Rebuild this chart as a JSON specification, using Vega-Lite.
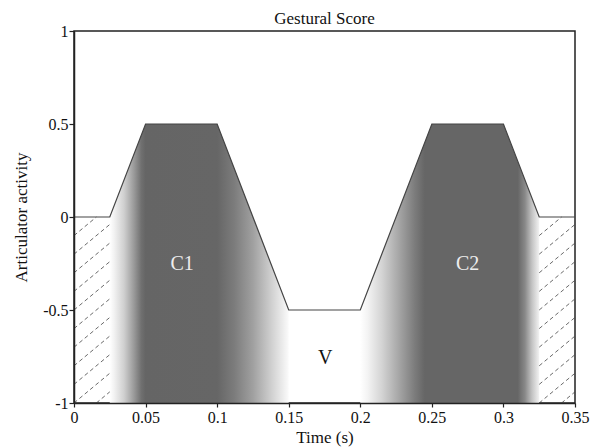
{
  "$schema": "https://vega.github.io/schema/vega-lite/v6.json",
  "width": 501,
  "height": 372,
  "autosize": "none",
  "padding": {"left": 74, "top": 31, "right": 15, "bottom": 44},
  "background": "white",
  "config": {
    "view": {"stroke": "#222", "strokeWidth": 1.5},
    "font": "Liberation Serif"
  },
  "title": {"text": "Gestural Score", "fontSize": 17, "font": "Liberation Serif", "fontWeight": "normal", "offset": 0, "dy": 5, "color": "#111"},
  "datasets": {
    "line": [
      {"t": 0, "a": 0}, {"t": 0.025, "a": 0}, {"t": 0.05, "a": 0.5}, {"t": 0.1, "a": 0.5},
      {"t": 0.15, "a": -0.5}, {"t": 0.2, "a": -0.5}, {"t": 0.25, "a": 0.5}, {"t": 0.3, "a": 0.5},
      {"t": 0.325, "a": 0}, {"t": 0.35, "a": 0}
    ],
    "c1": [
      {"t": 0.025, "a": 0}, {"t": 0.05, "a": 0.5}, {"t": 0.1, "a": 0.5}, {"t": 0.15, "a": -0.5}
    ],
    "c2": [
      {"t": 0.2, "a": -0.5}, {"t": 0.25, "a": 0.5}, {"t": 0.3, "a": 0.5}, {"t": 0.325, "a": 0}
    ],
    "bands": [
      {"g": "C1", "t": 0.027, "t2": 0.15},
      {"g": "C2", "t": 0.2, "t2": 0.325}
    ],
    "hatch": [
      {"t": 0.015625, "a": -1, "t2": 0.025, "a2": -0.94},
      {"t": 0, "a": -1, "t2": 0.025, "a2": -0.84},
      {"t": 0, "a": -0.9, "t2": 0.025, "a2": -0.74},
      {"t": 0, "a": -0.8, "t2": 0.025, "a2": -0.64},
      {"t": 0, "a": -0.7, "t2": 0.025, "a2": -0.54},
      {"t": 0, "a": -0.6, "t2": 0.025, "a2": -0.44},
      {"t": 0, "a": -0.5, "t2": 0.025, "a2": -0.34},
      {"t": 0, "a": -0.4, "t2": 0.025, "a2": -0.24},
      {"t": 0, "a": -0.3, "t2": 0.025, "a2": -0.14},
      {"t": 0, "a": -0.2, "t2": 0.025, "a2": -0.04},
      {"t": 0, "a": -0.1, "t2": 0.015625, "a2": 0},
      {"t": 0.340625, "a": -1, "t2": 0.35, "a2": -0.94},
      {"t": 0.325, "a": -1, "t2": 0.35, "a2": -0.84},
      {"t": 0.325, "a": -0.9, "t2": 0.35, "a2": -0.74},
      {"t": 0.325, "a": -0.8, "t2": 0.35, "a2": -0.64},
      {"t": 0.325, "a": -0.7, "t2": 0.35, "a2": -0.54},
      {"t": 0.325, "a": -0.6, "t2": 0.35, "a2": -0.44},
      {"t": 0.325, "a": -0.5, "t2": 0.35, "a2": -0.34},
      {"t": 0.325, "a": -0.4, "t2": 0.35, "a2": -0.24},
      {"t": 0.325, "a": -0.3, "t2": 0.35, "a2": -0.14},
      {"t": 0.325, "a": -0.2, "t2": 0.35, "a2": -0.04},
      {"t": 0.325, "a": -0.1, "t2": 0.340625, "a2": 0}
    ],
    "labels": [
      {"label": "C1", "t": 0.0755, "a": -0.25},
      {"label": "C2", "t": 0.275, "a": -0.25},
      {"label": "V", "t": 0.1755, "a": -0.76}
    ]
  },
  "encoding": {
    "x": {
      "field": "t", "type": "quantitative",
      "scale": {"domain": [0, 0.35], "nice": false, "zero": false},
      "axis": {
        "title": "Time (s)",
        "values": [0, 0.05, 0.1, 0.15, 0.2, 0.25, 0.3, 0.35],
        "labelExpr": "datum.value + ''",
        "grid": false, "tickSize": 4, "labelPadding": 2, "zindex": 1,
        "labelFontSize": 16, "titleFontSize": 17,
        "labelFont": "Liberation Serif", "titleFont": "Liberation Serif",
        "titleFontWeight": "normal", "labelColor": "#111", "titleColor": "#111",
        "domainColor": "#222", "tickColor": "#222", "domainWidth": 1.5, "tickWidth": 1.2,
        "labelFlush": false, "labelOverlap": false,
        "titleX": 250.5, "titleY": 39, "titleBaseline": "alphabetic", "titleAlign": "center"
      }
    },
    "y": {
      "field": "a", "type": "quantitative",
      "scale": {"domain": [-1, 1], "nice": false, "zero": false},
      "axis": {
        "title": "Articulator activity",
        "values": [-1, -0.5, 0, 0.5, 1],
        "labelExpr": "datum.value + ''",
        "grid": false, "tickSize": 5, "labelPadding": 1, "zindex": 1,
        "labelFontSize": 16, "titleFontSize": 17,
        "labelFont": "Liberation Serif", "titleFont": "Liberation Serif",
        "titleFontWeight": "normal", "labelColor": "#111", "titleColor": "#111",
        "domainColor": "#222", "tickColor": "#222", "domainWidth": 1.5, "tickWidth": 1.2,
        "labelFlush": false, "labelOverlap": false,
        "titleX": -48, "titleY": 186, "titleAngle": -90, "titleBaseline": "alphabetic", "titleAlign": "center"
      }
    }
  },
  "layer": [
    {
      "data": {"name": "bands"},
      "transform": [{"filter": "datum.g == 'C1'"}],
      "mark": {"type": "rect", "opacity": 0.07, "fill": {
        "gradient": "linear", "x1": 0, "x2": 1, "y1": 0, "y2": 0,
        "stops": [
          {"offset": 0, "color": "#ffffff"},
          {"offset": 0.17, "color": "#666666"},
          {"offset": 0.59, "color": "#666666"},
          {"offset": 1, "color": "#ffffff"}
        ]}},
      "encoding": {"x2": {"field": "t2"}, "y": {"datum": 0.5}, "y2": {"datum": -1}}
    },
    {
      "data": {"name": "bands"},
      "transform": [{"filter": "datum.g == 'C2'"}],
      "mark": {"type": "rect", "opacity": 0.07, "fill": {
        "gradient": "linear", "x1": 0, "x2": 1, "y1": 0, "y2": 0,
        "stops": [
          {"offset": 0, "color": "#ffffff"},
          {"offset": 0.36, "color": "#666666"},
          {"offset": 0.88, "color": "#666666"},
          {"offset": 1, "color": "#ffffff"}
        ]}},
      "encoding": {"x2": {"field": "t2"}, "y": {"datum": 0.5}, "y2": {"datum": -1}}
    },
    {
      "data": {"name": "c1"},
      "mark": {"type": "area", "fill": {
        "gradient": "linear", "x1": 0, "x2": 1, "y1": 0, "y2": 0,
        "stops": [
          {"offset": 0, "color": "#ffffff"},
          {"offset": 0.024, "color": "#f2f2f2"},
          {"offset": 0.08, "color": "#cfcfcf"},
          {"offset": 0.136, "color": "#999999"},
          {"offset": 0.176, "color": "#707070"},
          {"offset": 0.2, "color": "#656565"},
          {"offset": 0.6, "color": "#666666"},
          {"offset": 0.696, "color": "#7c7c7c"},
          {"offset": 0.8, "color": "#a0a0a0"},
          {"offset": 0.904, "color": "#d0d0d0"},
          {"offset": 1, "color": "#fbfbfb"}
        ]}},
      "encoding": {"y2": {"datum": -1}}
    },
    {
      "data": {"name": "c2"},
      "mark": {"type": "area", "fill": {
        "gradient": "linear", "x1": 0, "x2": 1, "y1": 0, "y2": 0,
        "stops": [
          {"offset": 0, "color": "#ffffff"},
          {"offset": 0.04, "color": "#f4f4f4"},
          {"offset": 0.12, "color": "#d4d4d4"},
          {"offset": 0.224, "color": "#a2a2a2"},
          {"offset": 0.304, "color": "#7c7c7c"},
          {"offset": 0.36, "color": "#666666"},
          {"offset": 0.88, "color": "#666666"},
          {"offset": 0.92, "color": "#888888"},
          {"offset": 0.96, "color": "#c4c4c4"},
          {"offset": 1, "color": "#f2f2f2"}
        ]}},
      "encoding": {"y2": {"datum": -1}}
    },
    {
      "data": {"name": "hatch"},
      "mark": {"type": "rule", "stroke": "#444444", "strokeWidth": 0.8, "strokeDash": [4, 3]},
      "encoding": {"x2": {"field": "t2"}, "y2": {"field": "a2"}}
    },
    {
      "data": {"name": "line"},
      "mark": {"type": "line", "stroke": "#444444", "strokeWidth": 1.2},
      "encoding": {}
    },
    {
      "data": {"name": "labels"},
      "transform": [{"filter": "datum.label != 'V'"}],
      "mark": {"type": "text", "font": "Liberation Serif", "fontSize": 20, "color": "#eeeeee", "baseline": "middle", "align": "center"},
      "encoding": {"text": {"field": "label"}}
    },
    {
      "data": {"name": "labels"},
      "transform": [{"filter": "datum.label == 'V'"}],
      "mark": {"type": "text", "font": "Liberation Serif", "fontSize": 20, "color": "#111111", "baseline": "middle", "align": "center"},
      "encoding": {"text": {"field": "label"}}
    }
  ]
}
